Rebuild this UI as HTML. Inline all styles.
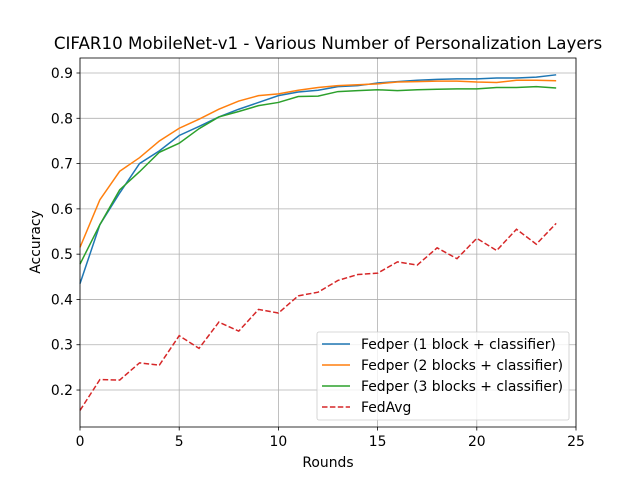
<!DOCTYPE html>
<html><head><meta charset="utf-8"><style>body{margin:0;background:#fff}svg{display:block}text{font-family:"DejaVu Sans",sans-serif;fill:#000}</style></head>
<body>
<svg id="s" width="640" height="480" xmlns="http://www.w3.org/2000/svg">
<rect x="0" y="0" width="640" height="480" fill="#fff"/>
<g id="grid" stroke="#b0b0b0" stroke-width="0.8"></g>
<g id="series"></g>
<rect x="80" y="58" width="496" height="369" fill="none" stroke="#000" stroke-width="0.8"/>
<g id="ticks" stroke="#000" stroke-width="0.8"></g>
<g font-size="13.9" text-anchor="middle">
<text x="80" y="446">0</text><text x="179.2" y="446">5</text><text x="278.4" y="446">10</text><text x="377.6" y="446">15</text><text x="476.8" y="446">20</text><text x="576" y="446">25</text>
</g>
<g font-size="13.9" text-anchor="end">
<text x="73" y="395">0.2</text><text x="73" y="349.7">0.3</text><text x="73" y="304.4">0.4</text><text x="73" y="259.1">0.5</text><text x="73" y="213.9">0.6</text><text x="73" y="168.6">0.7</text><text x="73" y="123.3">0.8</text><text x="73" y="78">0.9</text>
</g>
<text x="328" y="467" font-size="13.9" text-anchor="middle">Rounds</text>
<text transform="translate(40,242) rotate(-90)" font-size="13.9" text-anchor="middle">Accuracy</text>
<text x="328" y="49" font-size="16.7" text-anchor="middle">CIFAR10 MobileNet-v1 - Various Number of Personalization Layers</text>
<rect x="317" y="332" width="252" height="88" rx="2" fill="#fff" fill-opacity="0.8" stroke="#ccc" stroke-width="0.8"/>
<g stroke-width="1.5">
<line x1="322" y1="344" x2="350" y2="344" stroke="#1f77b4"/>
<line x1="322" y1="365" x2="350" y2="365" stroke="#ff7f0e"/>
<line x1="322" y1="386" x2="350" y2="386" stroke="#2ca02c"/>
<line x1="322" y1="407" x2="350" y2="407" stroke="#d62728" stroke-dasharray="5.5,2.4"/>
</g>
<g font-size="13.9">
<text x="361" y="349">Fedper (1 block + classifier)</text>
<text x="361" y="370">Fedper (2 blocks + classifier)</text>
<text x="361" y="391">Fedper (3 blocks + classifier)</text>
<text x="361" y="412">FedAvg</text>
</g>
</svg>
<script>
var X=function(i){return 80+i*19.84},Y=function(v){return 73+(0.9-v)*452.9};
var g=document.getElementById('grid'),t=document.getElementById('ticks'),ns="http://www.w3.org/2000/svg";
function ln(p,a,b,c,d){var l=document.createElementNS(ns,'line');l.setAttribute('x1',a);l.setAttribute('y1',b);l.setAttribute('x2',c);l.setAttribute('y2',d);p.appendChild(l);}
for(var i=0;i<=25;i+=5){ln(g,X(i),58,X(i),427);ln(t,X(i),427,X(i),430.5);}
for(var v=0.2;v<0.95;v+=0.1){ln(g,80,Y(v),576,Y(v));ln(t,76.5,Y(v),80,Y(v));}
var D=[["#1f77b4",[0.435,0.565,0.635,0.70,0.728,0.762,0.782,0.803,0.82,0.835,0.85,0.858,0.862,0.87,0.872,0.878,0.881,0.884,0.886,0.887,0.887,0.889,0.889,0.891,0.896]],
["#ff7f0e",[0.515,0.62,0.683,0.713,0.75,0.778,0.798,0.82,0.838,0.85,0.854,0.862,0.868,0.872,0.874,0.876,0.88,0.881,0.882,0.882,0.880,0.879,0.884,0.884,0.883]],
["#2ca02c",[0.478,0.565,0.642,0.682,0.725,0.745,0.777,0.803,0.815,0.828,0.835,0.848,0.849,0.859,0.861,0.863,0.861,0.863,0.864,0.865,0.865,0.868,0.868,0.870,0.867]],
["#d62728",[0.155,0.223,0.222,0.26,0.255,0.32,0.292,0.35,0.33,0.378,0.37,0.408,0.416,0.442,0.455,0.458,0.483,0.476,0.514,0.49,0.535,0.508,0.555,0.522,0.568],1]];
var s=document.getElementById('series');
D.forEach(function(d){var p=document.createElementNS(ns,'polyline');p.setAttribute('points',d[1].map(function(v,i){return X(i)+','+Y(v)}).join(' '));p.setAttribute('fill','none');p.setAttribute('stroke',d[0]);p.setAttribute('stroke-width','1.5');if(d[2])p.setAttribute('stroke-dasharray','5.5,2.4');s.appendChild(p);});
</script>
</body></html>
